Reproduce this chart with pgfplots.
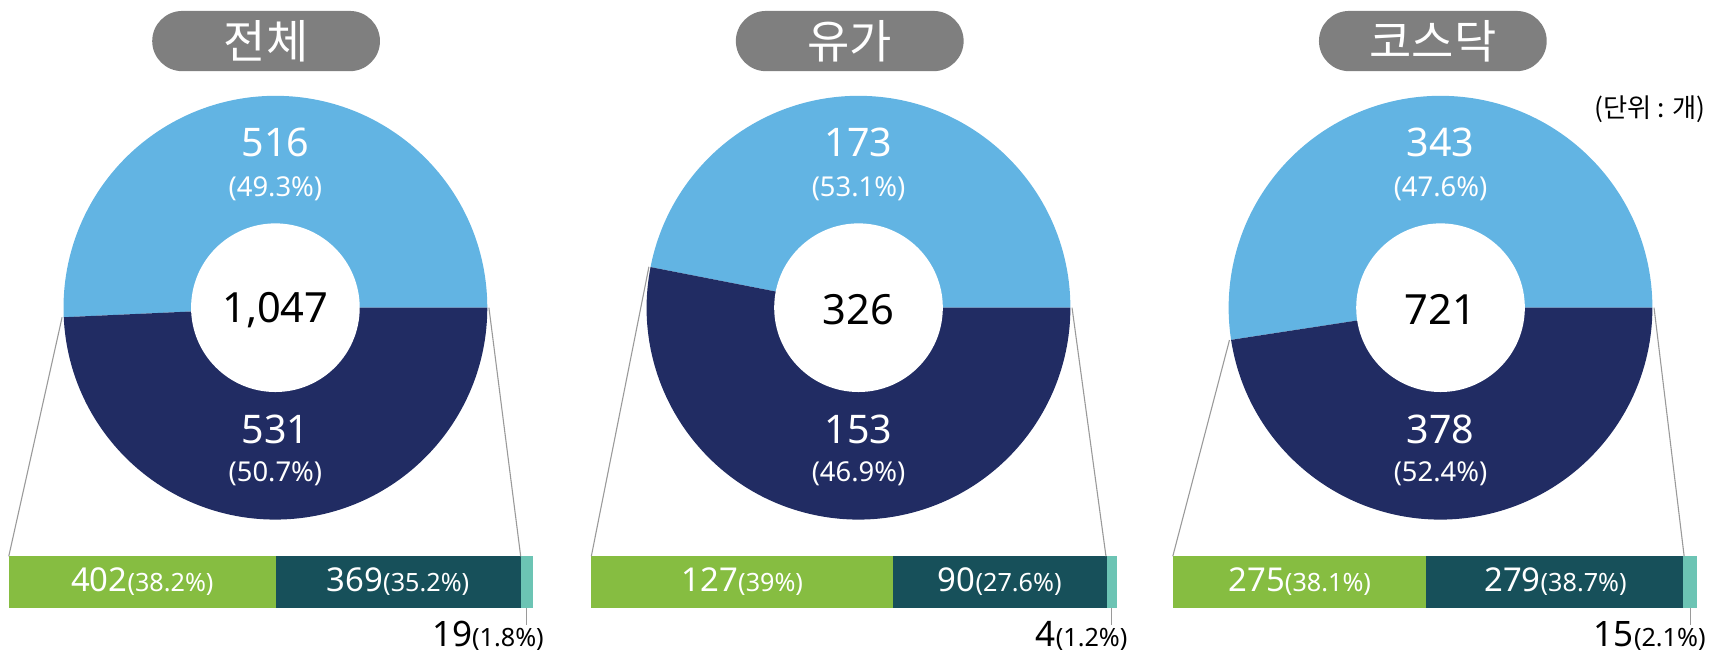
\documentclass[border=0pt]{standalone}
\usepackage{fontspec}
\usepackage{pgfplots}
\pgfplotsset{compat=1.18}
\setmainfont{Noto Sans}
\newfontfamily\kr{Noto Sans CJK KR}
\definecolor{lb}{HTML}{62B4E3}
\definecolor{navy}{HTML}{212C63}
\definecolor{grn}{HTML}{86BD41}
\definecolor{dteal}{HTML}{17505A}
\definecolor{lteal}{HTML}{6CC4B4}
\definecolor{pill}{HTML}{7F7F7F}
\definecolor{conn}{HTML}{9A9A9A}
\newcommand\fs[1]{\fontsize{#1}{#1}\selectfont}
% donut: cx, cy, first value, second value, bar-left-x, bar-split-x
\newcommand\donut[6]{%
 \pgfplotsextra{%
  \pgfmathsetmacro\ang{360*(#4/(#3+#4))}%
  \fill[lb] (axis cs:#1,#2) -- ++(0:96.75pt) arc[start angle=0,end angle=\ang,radius=96.75pt] -- cycle;
  \fill[navy] (axis cs:#1,#2) -- ++(\ang:96.75pt) arc[start angle=\ang,end angle=360,radius=96.75pt] -- cycle;
  \fill[white] (axis cs:#1,#2) circle[radius=38.5pt];
  \draw[conn, line width=0.5pt] (axis cs:#1,#2) ++(\ang:97.5pt) -- (axis cs:#5,92);
  \draw[conn, line width=0.5pt] (axis cs:#1,#2) ++(0:97.5pt) -- (axis cs:#6,92);
 }}
\newcommand\pielabels[6]{%
  \node[white] at (axis cs:#1,470) {\fs{18}#2};
  \node[white] at (axis cs:#1,428) {\fs{12.5}(#3)};
  \node[black] at (axis cs:#1,317) {\fs{19}#4};
  \node[white] at (axis cs:#1,208) {\fs{18}#5};
  \node[white] at (axis cs:#1,167) {\fs{12.5}(#6)};
}
\newcommand\titlepill[2]{%
  \node[fill=pill, rounded corners=13.75pt, minimum width=104pt, minimum height=27.5pt, inner sep=0pt, text=white] at (axis cs:#1,562.5) {\kr\fs{21}#2};
}
% bar labels: x-center, number, percent
\newcommand\barlabel[3]{%
  \node[white] at (axis cs:#1,69) {\fs{15}#2\fs{11.5}(#3)};
}
% small segment: tick x, right edge x, number, percent
\newcommand\smalllabel[4]{%
  \draw[conn,line width=0.5pt] (axis cs:#1,45) -- (axis cs:#1,29);
  \node[anchor=base east,inner sep=0pt] at (axis cs:#2,10) {\fs{16}#3\fs{11.5}(#4)};
}
\begin{document}
\begin{tikzpicture}
\useasboundingbox (0,0) rectangle (784pt,300pt);
% bars
\begin{axis}[at={(4pt,22.5pt)},anchor=south west,scale only axis,width=239.5pt,height=23.5pt,
  xmin=0,xmax=790,ymin=-0.5,ymax=0.5,hide axis,clip=false,xbar stacked,bar width=23.5pt]
\addplot[fill=grn,draw=none] coordinates {(402,0)};
\addplot[fill=dteal,draw=none] coordinates {(369,0)};
\addplot[fill=lteal,draw=none] coordinates {(19,0)};
\end{axis}
\begin{axis}[at={(270pt,22.5pt)},anchor=south west,scale only axis,width=240pt,height=23.5pt,
  xmin=0,xmax=221,ymin=-0.5,ymax=0.5,hide axis,clip=false,xbar stacked,bar width=23.5pt]
\addplot[fill=grn,draw=none] coordinates {(127,0)};
\addplot[fill=dteal,draw=none] coordinates {(90,0)};
\addplot[fill=lteal,draw=none] coordinates {(4,0)};
\end{axis}
\begin{axis}[at={(535.5pt,22.5pt)},anchor=south west,scale only axis,width=239.5pt,height=23.5pt,
  xmin=0,xmax=569,ymin=-0.5,ymax=0.5,hide axis,clip=false,xbar stacked,bar width=23.5pt]
\addplot[fill=grn,draw=none] coordinates {(275,0)};
\addplot[fill=dteal,draw=none] coordinates {(279,0)};
\addplot[fill=lteal,draw=none] coordinates {(15,0)};
\end{axis}
\begin{axis}[x=0.5pt,y=0.5pt,xmin=0,xmax=1568,ymin=0,ymax=600,hide axis,clip=false,scale only axis,at={(0,0)},anchor=south west]
\donut{251.5}{319}{516}{531}{8}{475.5}
\donut{784}{319}{173}{153}{540}{1010}
\donut{1315.5}{319}{343}{378}{1071}{1538}
\pielabels{251.5}{516}{49.3\%}{1,047}{531}{50.7\%}
\pielabels{784}{173}{53.1\%}{326}{153}{46.9\%}
\pielabels{1315.5}{343}{47.6\%}{721}{378}{52.4\%}
\titlepill{243}{전체}
\titlepill{776}{유가}
\titlepill{1308.5}{코스닥}
\node[anchor=east,inner sep=0pt] at (axis cs:1558,500) {\kr\fs{12}(단위 : 개)};
\barlabel{130}{402}{38.2\%}
\barlabel{363.5}{369}{35.2\%}
\barlabel{678}{127}{39\%}
\barlabel{913}{90}{27.6\%}
\barlabel{1187}{275}{38.1\%}
\barlabel{1420.5}{279}{38.7\%}
\smalllabel{481}{497}{19}{1.8\%}
\smalllabel{1015}{1030}{4}{1.2\%}
\smalllabel{1544}{1558}{15}{2.1\%}
\end{axis}
\end{tikzpicture}
\end{document}
